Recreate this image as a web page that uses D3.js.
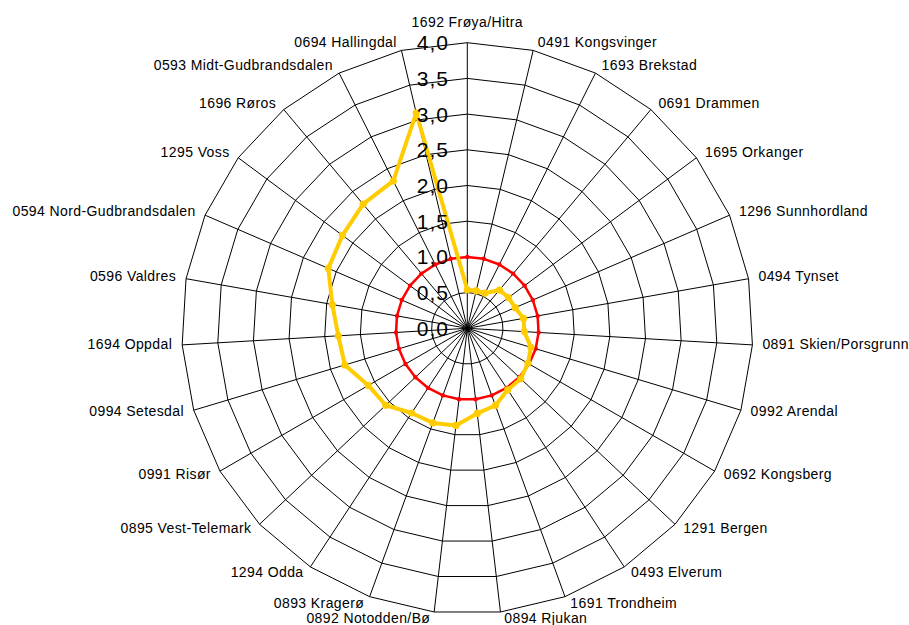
<!DOCTYPE html>
<html>
<head>
<meta charset="utf-8">
<script src="https://cdn.jsdelivr.net/npm/d3@7"></script>
<style>
  html, body { margin: 0; padding: 0; background: #fff; }
  svg { display: block; }
</style>
</head>
<body>
<svg id="chart" width="909" height="625"></svg>
<script>
const categories = [
  "1692 Frøya/Hitra", "0491 Kongsvinger", "1693 Brekstad", "0691 Drammen",
  "1695 Orkanger", "1296 Sunnhordland", "0494 Tynset", "0891 Skien/Porsgrunn",
  "0992 Arendal", "0692 Kongsberg", "1291 Bergen", "0493 Elverum",
  "1691 Trondheim", "0894 Rjukan", "0892 Notodden/Bø", "0893 Kragerø",
  "1294 Odda", "0895 Vest-Telemark", "0991 Risør", "0994 Setesdal",
  "1694 Oppdal", "0596 Valdres", "0594 Nord-Gudbrandsdalen", "1295 Voss",
  "1696 Røros", "0593 Midt-Gudbrandsdalen", "0694 Hallingdal"
];
const seriesValues = [
  0.54, 0.54, 0.55, 0.70, 0.72, 0.73, 0.80, 0.80, 0.93,
  0.98, 1.03, 1.03, 1.15, 1.20, 1.37, 1.41, 1.42, 1.57,
  1.60, 1.79, 1.81, 1.92, 2.12, 2.18, 2.27, 2.31, 3.10
];
const referenceValues = [
  1.0, 1.0, 1.0, 1.0, 1.0, 1.0, 1.0, 1.0, 1.0,
  1.0, 1.0, 1.0, 1.0, 1.0, 1.0, 1.0, 1.0, 1.0,
  1.0, 1.0, 1.0, 1.0, 1.0, 1.0, 1.0, 1.0, 1.0
];
const tickValues = [0, 0.5, 1.0, 1.5, 2.0, 2.5, 3.0, 3.5, 4.0];
const tickLabels = ["0,0", "0,5", "1,0", "1,5", "2,0", "2,5", "3,0", "3,5", "4,0"];

const svg = d3.select("#chart");
const cx = 467.3, cy = 328.3, R = 285.6;
const r = d3.scaleLinear().domain([0, 4]).range([0, R]);
const n = categories.length;
const angle = d3.scaleLinear().domain([0, n]).range([0, 2 * Math.PI]);

const g = svg.append("g").attr("transform", `translate(${cx},${cy})`);

// Grid rings
const ringLine = d3.lineRadial()
  .angle((d, i) => angle(i))
  .curve(d3.curveLinearClosed);
tickValues.filter(v => v > 0).forEach(v => {
  g.append("path")
    .attr("d", ringLine.radius(() => r(v))(categories))
    .attr("fill", "none")
    .attr("stroke", "#000")
    .attr("stroke-width", 1);
});

// Spokes
g.selectAll("line.spoke").data(categories).enter().append("line")
  .attr("class", "spoke")
  .attr("x1", 0).attr("y1", 0)
  .attr("x2", (d, i) => r(4) * Math.sin(angle(i)))
  .attr("y2", (d, i) => -r(4) * Math.cos(angle(i)))
  .attr("stroke", "#000")
  .attr("stroke-width", 1);

// Series
function drawSeries(vals, color, width, dotR) {
  const line = d3.lineRadial()
    .angle((d, i) => angle(i))
    .radius(d => r(d))
    .curve(d3.curveLinearClosed);
  g.append("path")
    .attr("d", line(vals))
    .attr("fill", "none")
    .attr("stroke", color)
    .attr("stroke-width", width)
    .attr("stroke-linejoin", "round");
  g.selectAll(null).data(vals).enter().append("circle")
    .attr("cx", (d, i) => r(d) * Math.sin(angle(i)))
    .attr("cy", (d, i) => -r(d) * Math.cos(angle(i)))
    .attr("r", dotR)
    .attr("fill", color);
}
drawSeries(referenceValues, "#ff0000", 2.5, 2.2);
drawSeries(seriesValues, "#ffcc00", 4, 3.6);

// Category labels
g.selectAll("text.cat").data(categories).enter().append("text")
  .attr("class", "cat")
  .each(function (d, i) {
    const a = angle(i);
    const s = Math.sin(a), c = Math.cos(a);
    const vx = R * s, vy = -R * c;
    let anchor = "middle", x = vx, y;
    if (s > 0.01) { anchor = "start"; x = vx + 3 + 7 * Math.abs(s); }
    else if (s < -0.01) { anchor = "end"; x = vx - 3 - 7 * Math.abs(s); }
    if (i === 0) y = vy - 21;
    else y = vy - 7.5 * c - 1;
    d3.select(this)
      .attr("x", x).attr("y", y)
      .attr("text-anchor", anchor)
      .attr("dominant-baseline", "central");
  })
  .attr("font-family", "'Liberation Sans', Arial, sans-serif")
  .attr("font-size", 14)
  .attr("letter-spacing", 0.4)
  .attr("fill", "#000")
  .text(d => d);

// Tick labels
g.selectAll("text.tick").data(tickValues).enter().append("text")
  .attr("class", "tick")
  .attr("x", 449 - cx)
  .attr("y", d => -r(d))
  .attr("text-anchor", "end")
  .attr("dominant-baseline", "central")
  .attr("font-family", "'Liberation Sans', Arial, sans-serif")
  .attr("font-size", 21)
  .attr("letter-spacing", 1)
  .attr("fill", "#000")
  .text((d, i) => tickLabels[i]);
</script>
</body>
</html>
